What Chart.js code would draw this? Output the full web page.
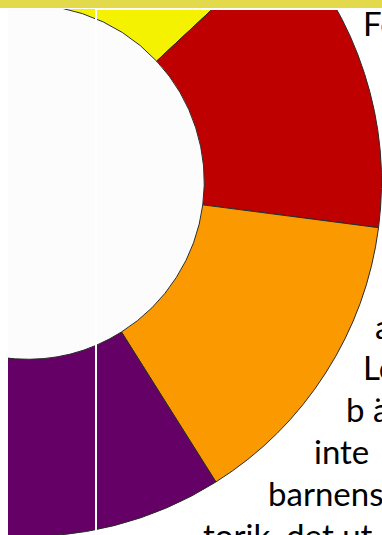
<!DOCTYPE html>
<html>
<head>
<meta charset="utf-8">
<script src="https://cdn.jsdelivr.net/npm/chart.js@4"></script>
<style>
  html, body { margin: 0; padding: 0; background: #fff; }
  body { width: 382px; height: 535px; overflow: hidden; position: relative; font-family: Lato, "Open Sans", sans-serif; }
  .band { position: absolute; left: 0; top: 0; width: 382px; height: 8px; background: #e2da4a; z-index: 4; }
  .frame { position: absolute; left: 95px; top: 8px; width: 400px; height: 600px;
           border-left: 2px solid #fff; border-top: 2px solid #fff; z-index: 3; }
  .chartBox { position: absolute; left: 8px; top: 9px; width: 374px; height: 526px; overflow: hidden; z-index: 2; }
  #doughnut { position: absolute; left: -336px; top: -182px; }
  .txt { position: absolute; font-size: 33px; line-height: 1; color: #000; white-space: nowrap; z-index: 1; }
</style>
</head>
<body>
<div class="band"></div>
<div class="frame"></div>
<div id="lines"></div>
<div class="chartBox"><canvas id="doughnut" width="710" height="710"></canvas></div>
<script>
// Andelar i diagrammet (bara en del av ringen syns i bilden)
const KATEGORIER = ['Gul', 'Röd', 'Orange', 'Lila', 'Grön', 'Blå'];
const VARDEN = [16, 14, 14, 20, 19, 17];
const FARGER = ['#f5f200', '#bf0000', '#fb9a00', '#650066', '#2e9e3a', '#2f6fbf'];

// Textrader bakom diagrammet: text, vänsterkant, baslinje
const TEXTRADER = ['Fö', 'a', 'Lo', 'b ä', 'inte', 'barnens', 'torik, det ut'];
const TEXT_X = [363, 375, 363, 346, 314, 268, 203];
const TEXT_BASLINJE = [36, 339, 380, 422, 464, 506, 548];

function renderText() {
    const holder = document.getElementById('lines');
    TEXTRADER.forEach((t, i) => {
        const div = document.createElement('div');
        div.className = 'txt';
        div.textContent = t;
        div.style.left = TEXT_X[i] + 'px';
        div.style.top = (TEXT_BASLINJE[i] - 29) + 'px';
        holder.appendChild(div);
    });
}

// fyller hålet i ringen med en nästan vit ton
const holeFill = {
    id: 'holeFill',
    beforeDatasetsDraw(chart) {
        const meta = chart.getDatasetMeta(0);
        if (!meta.data.length) return;
        const arc = meta.data[0];
        const c = chart.ctx;
        c.save();
        c.beginPath();
        c.arc(arc.x, arc.y, arc.innerRadius, 0, Math.PI * 2);
        c.fillStyle = '#fcfcfc';
        c.fill();
        c.restore();
    }
};

function renderDoughnut() {
    const ctx = document.getElementById('doughnut').getContext('2d');
    new Chart(ctx, {
        type: 'doughnut',
        data: {
            labels: KATEGORIER,
            datasets: [{
                data: VARDEN,
                backgroundColor: FARGER,
                borderColor: '#2a2a2a',
                borderWidth: 1
            }]
        },
        options: {
            responsive: false,
            animation: false,
            cutout: '50%',
            rotation: -10.6,
            layout: { padding: 0 },
            plugins: {
                legend: { display: false },
                tooltip: { enabled: false },
                title: { display: false }
            }
        },
        plugins: [holeFill]
    });
}

renderText();
renderDoughnut();
</script>
</body>
</html>
